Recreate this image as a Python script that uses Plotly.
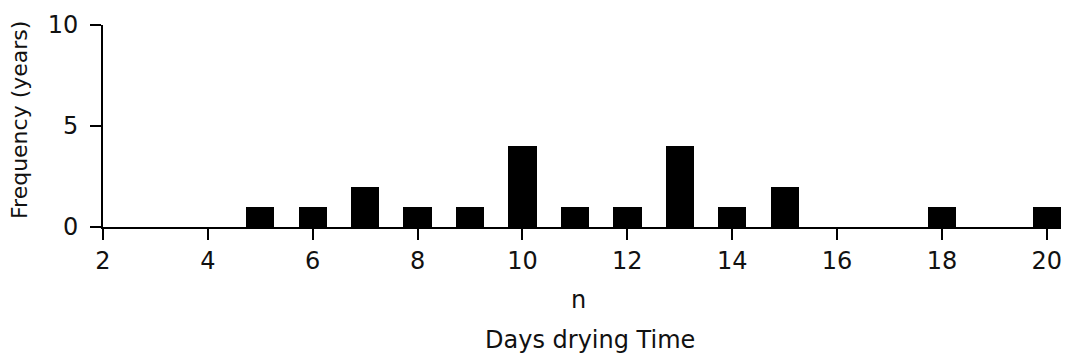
import plotly.graph_objects as go

days = [5, 6, 7, 8, 9, 10, 11, 12, 13, 14, 15, 18, 20]
frequency = [1, 1, 2, 1, 1, 4, 1, 1, 4, 1, 2, 1, 1]
x_ticks = [2, 4, 6, 8, 10, 12, 14, 16, 18, 20]
y_ticks = [0, 5, 10]

FONT = "DejaVu Sans"
INK = "#111111"

fig = go.Figure()
fig.add_trace(go.Bar(x=days, y=frequency, width=0.54,
                     marker=dict(color="black", line=dict(width=0)),
                     showlegend=False))

axis_common = dict(showgrid=False, zeroline=False, automargin=False,
                   showline=True, linecolor="black", linewidth=2,
                   ticks="outside", ticklen=11, tickwidth=2, tickcolor="black",
                   tickfont=dict(size=24, family=FONT, color=INK))

fig.update_layout(
    width=1064, height=351,
    margin=dict(l=95, r=11, t=17, b=132),
    plot_bgcolor="white", paper_bgcolor="white",
    font=dict(family=FONT, size=22, color=INK),
    bargap=0,
    xaxis=dict(range=[2, 20.27], tickvals=x_ticks, ticklabelstandoff=0, **axis_common),
    yaxis=dict(range=[0, 10], tickvals=y_ticks, ticklabelstandoff=7, **axis_common),
    annotations=[
        dict(text="Frequency (years)", xref="paper", yref="paper", x=-0.0866, y=0.53,
             textangle=-90, showarrow=False, font=dict(size=22, family=FONT, color=INK),
             xanchor="center", yanchor="middle"),
        dict(text="n", xref="paper", yref="paper", x=0.496, y=-0.361,
             showarrow=False, font=dict(size=24, family=FONT, color=INK),
             xanchor="center", yanchor="middle"),
        dict(text="Days drying Time", xref="paper", yref="paper", x=0.508, y=-0.559,
             showarrow=False, font=dict(size=24, family=FONT, color=INK),
             xanchor="center", yanchor="middle"),
    ],
)

fig.write_html("out.html")
